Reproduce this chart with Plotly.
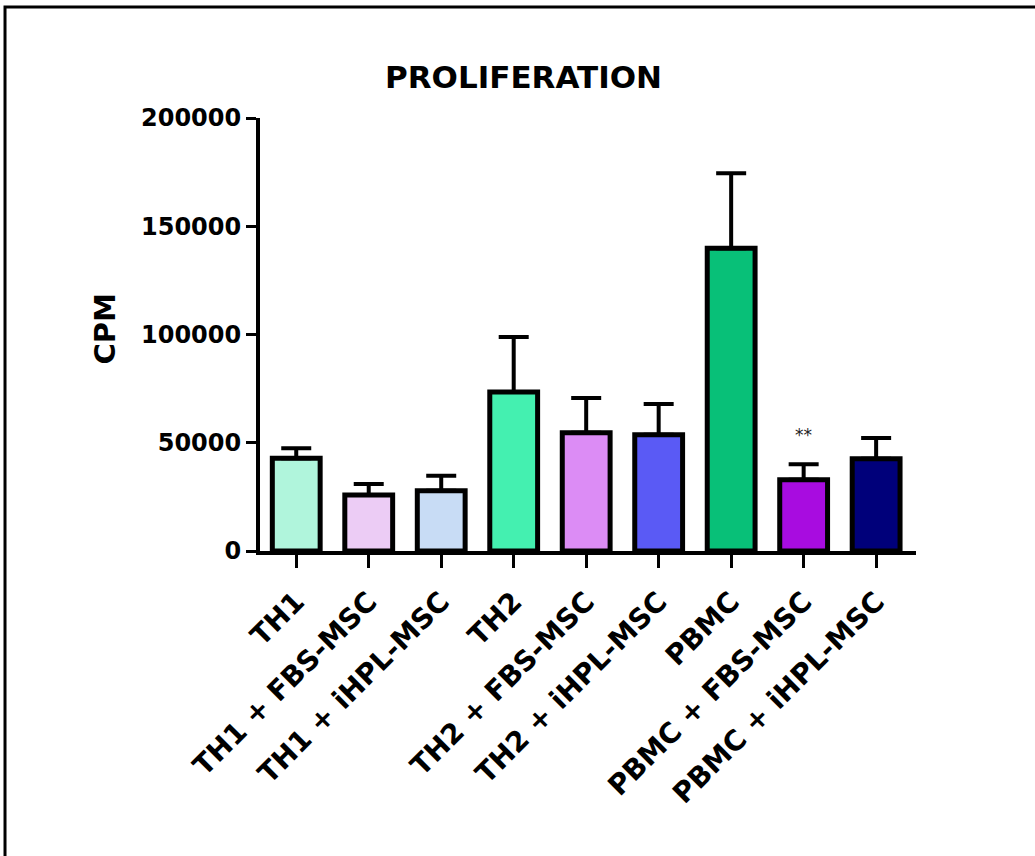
import plotly.graph_objects as go

categories = ["TH1", "TH1 + FBS-MSC", "TH1 + iHPL-MSC", "TH2", "TH2 + FBS-MSC",
              "TH2 + iHPL-MSC", "PBMC", "PBMC + FBS-MSC", "PBMC + iHPL-MSC"]
means = [42800, 25900, 27800, 73400, 54600, 53700, 139800, 32900, 42600]
sem = [4700, 5100, 6900, 25400, 16100, 14200, 34700, 7200, 9600]
colors = ["#b0f5dc", "#ecccf5", "#c8dcf5", "#44f0b0", "#dc8cf5",
          "#5a5af5", "#08c078", "#a80ce0", "#00007a"]
y_ticks = [0, 50000, 100000, 150000, 200000]

FONT = "DejaVu Sans, Verdana, sans-serif"

fig = go.Figure()
fig.add_trace(go.Bar(
    x=categories, y=means,
    marker=dict(color=colors, line=dict(color="black", width=5)),
    width=0.66,
    error_y=dict(type="data", array=sem, arrayminus=[0] * len(sem), symmetric=False,
                 color="black", thickness=4, width=15),
    showlegend=False,
))

fig.add_annotation(x=categories[7], y=means[7] + sem[7], text="**", showarrow=False,
                   yanchor="bottom", yshift=17,
                   font=dict(family=FONT, size=17, color="#222222"))

fig.add_annotation(xref="paper", yref="paper", x=(104.5 - 260) / 656, y=(551 - 329) / 433,
                   text="CPM", textangle=-90, showarrow=False,
                   xanchor="center", yanchor="middle",
                   font=dict(family=FONT, size=29, color="black", weight="bold"))

fig.add_shape(type="rect", xref="paper", yref="paper",
              x0=-0.3887, x1=1.3, y0=-0.8, y1=1.2564,
              line=dict(color="black", width=3), fillcolor="rgba(0,0,0,0)", layer="below")

fig.update_layout(
    width=1035, height=856,
    margin=dict(l=260, r=119, t=118, b=305),
    paper_bgcolor="white", plot_bgcolor="white",
    title=dict(text="PROLIFERATION", xref="paper", x=(523.5 - 260) / 656, xanchor="center",
               yref="container", y=1 - 77 / 856, yanchor="middle",
               font=dict(family=FONT, size=31, color="black", weight="bold")),
    font=dict(family=FONT, color="black"),
)
fig.update_xaxes(
    range=[-0.5, 8.55], showline=True, linecolor="black", linewidth=4,
    ticks="outside", ticklen=13, tickwidth=3, tickcolor="black",
    tickangle=-45, ticklabelstandoff=6,
    tickfont=dict(family=FONT, size=28, color="black", weight="bold"),
    showgrid=False, zeroline=False,
)
fig.update_yaxes(
    range=[0, 200000], tickvals=y_ticks, tickformat="d",
    showline=True, linecolor="black", linewidth=4,
    ticks="outside", ticklen=10, tickwidth=3, tickcolor="black",
    tickfont=dict(family=FONT, size=24, color="black", weight="bold"),
    showgrid=False, zeroline=False,
)

fig.write_html("out.html")
